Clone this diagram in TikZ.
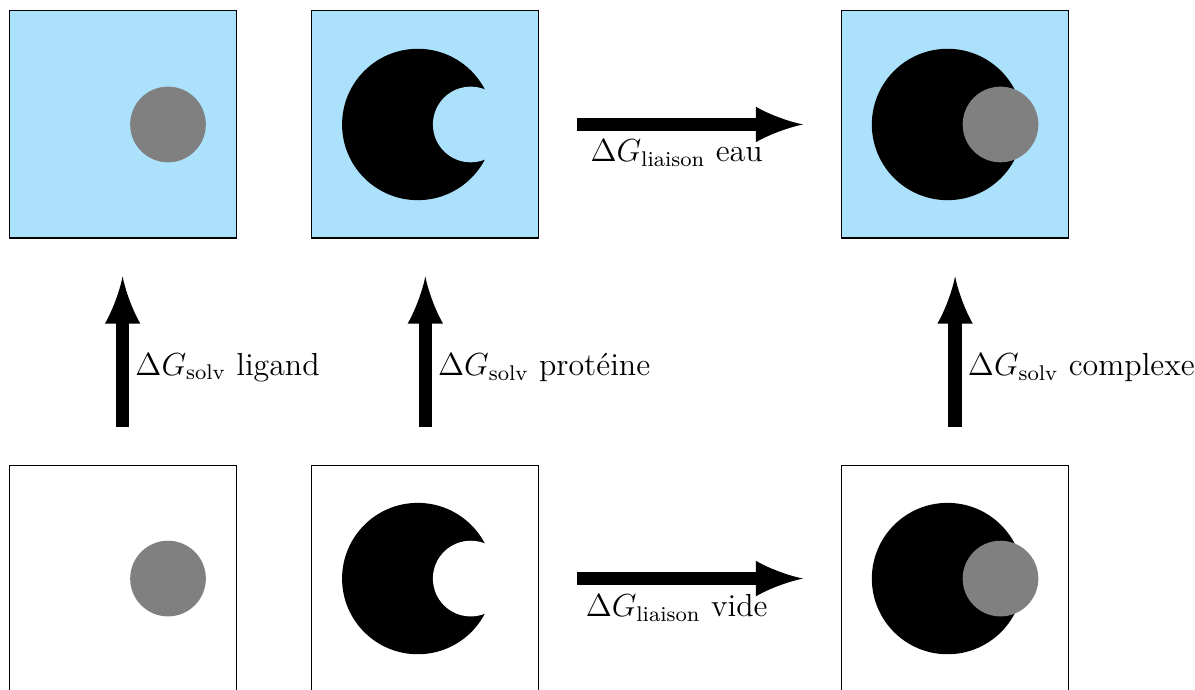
\documentclass[tikz,border=0pt]{standalone}
\usepackage{amsmath,amssymb}
\usepackage{xcolor}
\usetikzlibrary{arrows, positioning, calc}
\definecolor{eau}{RGB}{171,225,250}

\begin{document}
\begin{tikzpicture}[
    boite/.style={draw, thin, minimum size=3cm, inner sep=0pt},
    fleche/.style={line width=5pt, -latex, shorten <=0.5cm, shorten >=0.5cm},
    lab/.style={font=\large}
  ]
  \useasboundingbox (-1.62,-1.46) rectangle (14.17,7.645);
  % boites du haut (dans l'eau)
  \node[boite, fill=eau] (LE) at (0,6) {};
  \node[boite, fill=eau] (PE) at (4,6) {};
  \node[boite, fill=eau] (CE) at (11,6) {};
  % boites du bas (vide)
  \node[boite] (LV) at (0,0) {};
  \node[boite] (PV) at (4,0) {};
  \node[boite] (CV) at (11,0) {};
  % ligand
  \fill[gray] ($(LE.center)+(0.6,0)$) circle (0.5);
  \fill[gray] ($(LV.center)+(0.6,0)$) circle (0.5);
  % proteine (poche)
  \fill[black] ($(PE.center)+(-0.1,0)$) circle (1);
  \fill[eau] ($(PE.center)+(0.6,0)$) circle (0.5);
  \fill[black] ($(PV.center)+(-0.1,0)$) circle (1);
  \fill[white] ($(PV.center)+(0.6,0)$) circle (0.5);
  % complexe
  \fill[black] ($(CE.center)+(-0.1,0)$) circle (1);
  \fill[gray] ($(CE.center)+(0.6,0)$) circle (0.5);
  \fill[black] ($(CV.center)+(-0.1,0)$) circle (1);
  \fill[gray] ($(CV.center)+(0.6,0)$) circle (0.5);
  % fleches
  \draw[fleche] (PE.east) -- (CE.west) node[lab, below, pos=0.455] {$\Delta G_{\text{liaison}}$ eau};
  \draw[fleche] (PV.east) -- (CV.west) node[lab, below, pos=0.455] {$\Delta G_{\text{liaison}}$ vide};
  \draw[fleche] (LV.north) -- (LE.south) node[lab, right, pos=0.43, xshift=-1pt] {$\Delta G_{\text{solv}}$ ligand};
  \draw[fleche] (PV.north) -- (PE.south) node[lab, right, pos=0.43, xshift=-1pt] {$\Delta G_{\text{solv}}$ protéine};
  \draw[fleche] (CV.north) -- (CE.south) node[lab, right, pos=0.43, xshift=-1pt] {$\Delta G_{\text{solv}}$ complexe};
\end{tikzpicture}
\end{document}
